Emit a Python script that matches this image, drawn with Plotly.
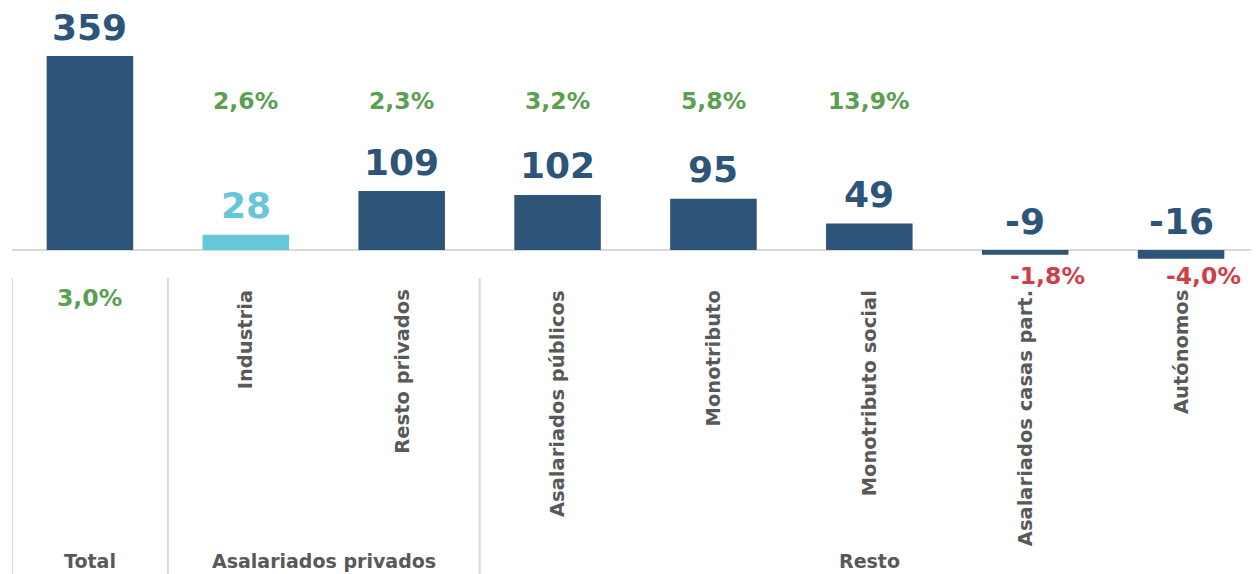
import plotly.graph_objects as go

# datos
categorias = ["Total", "Industria", "Resto privados", "Asalariados públicos",
              "Monotributo", "Monotributo social", "Asalariados casas part.", "Autónomos"]
grupos = ["Total", "Asalariados privados", "Resto"]
grupo_de = ["Total", "Asalariados privados", "Asalariados privados", "Resto",
            "Resto", "Resto", "Resto", "Resto"]
valores = [359, 28, 109, 102, 95, 49, -9, -16]
variacion = [3.0, 2.6, 2.3, 3.2, 5.8, 13.9, -1.8, -4.0]
destacado = "Industria"

# estilo
AZUL = "#2D5479"
CELESTE = "#67C7D9"
VERDE = "#5B9F51"
ROJO = "#CF3F4A"
GRIS_TXT = "#595959"
GRIS_LIN = "#D9D9D9"
FUENTE = "DejaVu Sans"

# la pagina agrega 8px de margen al body: se descuentan del tamaño
PAGINA = 8
W, H = 1259 - PAGINA, 574 - PAGINA
BASE_PX = 250 - PAGINA      # posicion vertical del cero
PX_POR_UNIDAD = 0.5404


def py(px_pagina):
    """posicion vertical de la pagina -> fraccion del papel"""
    return (H - (px_pagina - PAGINA)) / H


colores = [CELESTE if c == destacado else AZUL for c in categorias]

fig = go.Figure()
fig.add_trace(go.Bar(
    x=categorias, y=valores,
    marker=dict(color=colores, line=dict(width=0)),
    width=0.555, hoverinfo="skip", showlegend=False,
))

anns = []
for i, (c, v, p) in enumerate(zip(categorias, valores, variacion)):
    # valor absoluto
    anns.append(dict(
        x=c, y=max(v, 0), xref="x", yref="y", text=str(v), showarrow=False,
        yanchor="middle", yshift=29,
        font=dict(family=FUENTE, size=36, color=colores[i], weight="bold"),
    ))
    # variacion porcentual
    txt = f"{p:.1f}".replace(".", ",") + "%"
    fnt = dict(family=FUENTE, size=23.5, color=VERDE if p >= 0 else ROJO, weight="bold")
    if i == 0:
        anns.append(dict(x=c, y=0, xref="x", yref="y", text=txt, showarrow=False,
                         yanchor="middle", yshift=-48, font=fnt))
    elif p >= 0:
        anns.append(dict(x=c, y=py(101), xref="x", yref="paper", text=txt,
                         showarrow=False, yanchor="middle", font=fnt))
    else:
        anns.append(dict(x=c, y=0, xref="x", yref="y", text=txt, showarrow=False,
                         yanchor="middle", yshift=-26, xshift=22, font=fnt))
    # etiqueta de categoria rotada
    if i > 0:
        anns.append(dict(
            x=c, y=0, xref="x", yref="y", text=c, showarrow=False, textangle=-90,
            yanchor="top", yshift=-38,
            font=dict(family=FUENTE, size=19.5, color=GRIS_TXT, weight="bold"),
        ))

# etiquetas de grupo y separadores
for g in grupos:
    idx = [i for i, gg in enumerate(grupo_de) if gg == g]
    centro = (idx[0] + idx[-1]) / 2
    anns.append(dict(
        x=centro, y=0, xref="x", yref="paper", text=g, showarrow=False,
        yanchor="bottom", yshift=0,
        font=dict(family=FUENTE, size=19, color=GRIS_TXT, weight="bold"),
    ))

shapes = []
for g in grupos:
    inicio = grupo_de.index(g)
    shapes.append(dict(
        type="line", xref="x", yref="paper", x0=inicio - 0.5, x1=inicio - 0.5,
        y0=0, y1=py(278), line=dict(color=GRIS_LIN, width=2),
    ))

y_max = BASE_PX / PX_POR_UNIDAD
y_min = -(H - BASE_PX) / PX_POR_UNIDAD

fig.update_layout(
    width=W, height=H,
    margin=dict(l=12 - PAGINA, r=0, t=0, b=0),
    paper_bgcolor="white", plot_bgcolor="white",
    annotations=anns, shapes=shapes,
)
fig.update_xaxes(showticklabels=False, showgrid=False, zeroline=False,
                 showline=False, ticks="", range=[-0.5, len(categorias) - 0.5])
fig.update_yaxes(showticklabels=False, showgrid=False, zeroline=True,
                 zerolinecolor=GRIS_LIN, zerolinewidth=2, showline=False,
                 range=[y_min, y_max])

fig.write_html("out.html")
